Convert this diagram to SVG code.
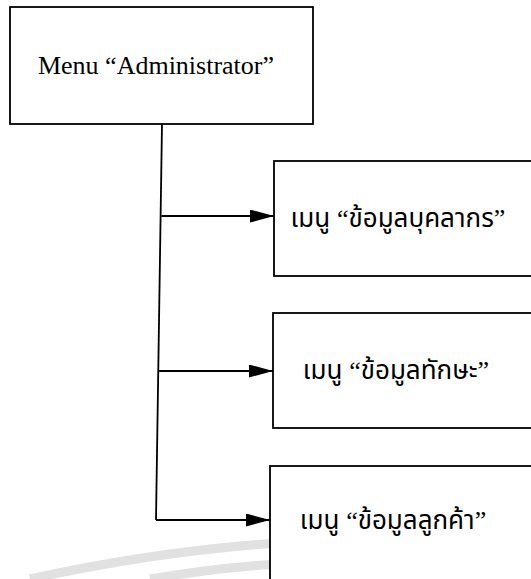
<svg xmlns="http://www.w3.org/2000/svg" width="531" height="579" viewBox="0 0 531 579">
<defs>
<style>
.box{fill:#fff;stroke:#000;stroke-width:1.8}
.conn{fill:none;stroke:#000;stroke-width:1.8}
.en{font-family:"Liberation Serif","Times New Roman",serif;font-size:26px;fill:#000}
.th{font-family:"Noto Sans Thai","Noto Sans","DejaVu Sans",sans-serif;font-size:26px;fill:#000}
.q{font-family:"Liberation Serif",serif}
.wm{fill:none;stroke:#d9d9d9;stroke-width:9;opacity:0.8}
</style>
<marker id="arr" markerWidth="24" markerHeight="13" refX="24" refY="6.5" orient="auto" markerUnits="userSpaceOnUse">
<path d="M0,0 L24,6.5 L0,13 Z" fill="#000"/>
</marker>
</defs>
<g id="watermark">
<path class="wm" d="M30,579 Q300,520 531,550"/>
<path class="wm" d="M150,579 Q330,548 531,570"/>
</g>
<g id="node-admin">
<rect class="box" x="10" y="7" width="303" height="117"/>
<text class="en" x="156" y="74" text-anchor="middle">Menu “Administrator”</text>
</g>
<g id="node-personnel">
<rect class="box" x="274" y="161" width="270" height="115"/>
<text class="th" x="398" y="227" text-anchor="middle">เมนู <tspan class="q">“</tspan>ข้อมูลบุคลากร<tspan class="q">”</tspan></text>
</g>
<g id="node-skill">
<rect class="box" x="273" y="313" width="270" height="115"/>
<text class="th" x="396" y="379" text-anchor="middle">เมนู <tspan class="q">“</tspan>ข้อมูลทักษะ<tspan class="q">”</tspan></text>
</g>
<g id="node-customer">
<rect class="box" x="270" y="466" width="275" height="130"/>
<text class="th" x="393" y="529" text-anchor="middle">เมนู <tspan class="q">“</tspan>ข้อมูลลูกค้า<tspan class="q">”</tspan></text>
</g>
<g id="connectors">
<path class="conn" d="M162,124 L156,520"/>
<path class="conn" d="M161.4,216 L274,216" marker-end="url(#arr)"/>
<path class="conn" d="M159.1,371 L273,371" marker-end="url(#arr)"/>
<path class="conn" d="M156,520 L270,520" marker-end="url(#arr)"/>
</g>
</svg>
